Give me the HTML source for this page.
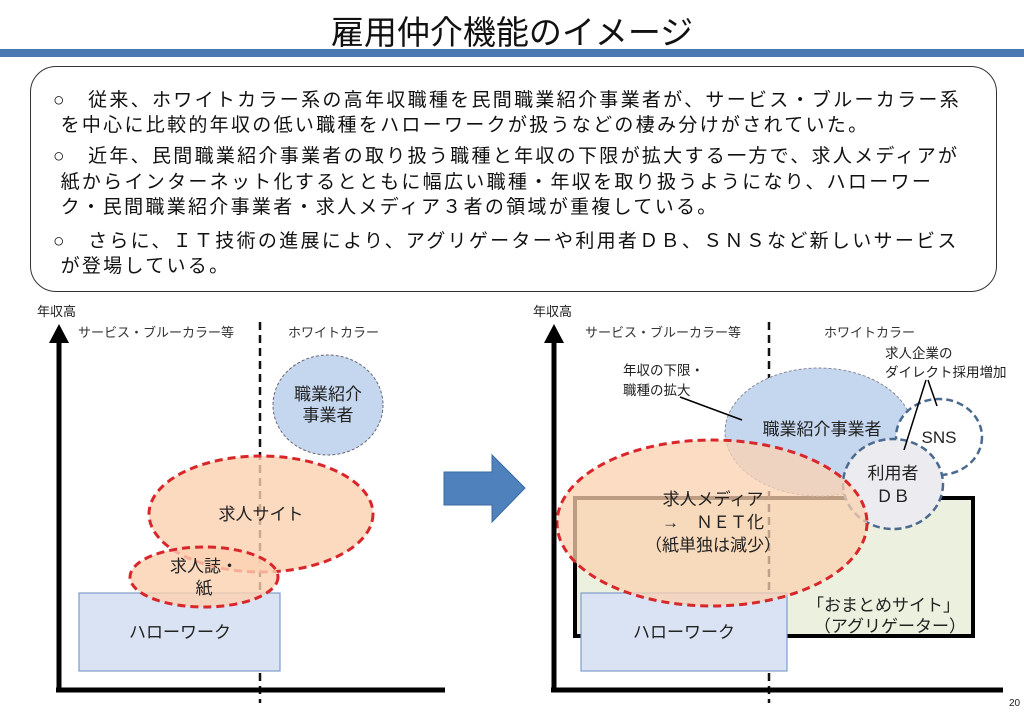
<!DOCTYPE html>
<html><head><meta charset="utf-8"><style>
body{margin:0;width:1024px;height:719px;background:#fff;overflow:hidden;font-family:"Liberation Sans","Noto Sans CJK JP",sans-serif;}
.t{position:absolute;white-space:nowrap;color:#111;}
</style></head><body>
<div class="t" style="left:0;width:1024px;text-align:center;top:6px;font-size:33px;">雇用仲介機能のイメージ</div>
<div style="position:absolute;left:0;top:49px;width:1024px;height:8px;background:#4a78b3;"></div>
<div style="position:absolute;left:30px;top:66px;width:965px;height:224px;border:1.5px solid #333;border-radius:26px;"></div>
<div class="t" style="left:53px;top:88px;font-size:19px;line-height:25px;letter-spacing:2.3px;">
○　従来、ホワイトカラー系の高年収職種を民間職業紹介事業者が、サービス・ブルーカラー系<br>
&nbsp;を中心に比較的年収の低い職種をハローワークが扱うなどの棲み分けがされていた。</div>
<div class="t" style="left:53px;top:144px;font-size:19px;line-height:25.5px;letter-spacing:2.3px;">
○　近年、民間職業紹介事業者の取り扱う職種と年収の下限が拡大する一方で、求人メディアが<br>
&nbsp;紙からインターネット化するとともに幅広い職種・年収を取り扱うようになり、ハローワー<br>
&nbsp;ク・民間職業紹介事業者・求人メディア３者の領域が重複している。</div>
<div class="t" style="left:53px;top:229px;font-size:19px;line-height:25px;letter-spacing:2.3px;">
○　さらに、ＩＴ技術の進展により、アグリゲーターや利用者ＤＢ、ＳＮＳなど新しいサービス<br>
&nbsp;が登場している。</div>

<svg style="position:absolute;left:0;top:0" width="1024" height="719" font-family="Liberation Sans, Noto Sans CJK JP, sans-serif">
<text x="37" y="316" font-size="13" fill="#222">年収高</text>
<text x="78" y="337" font-size="13" fill="#333">サービス・ブルーカラー等</text>
<text x="288" y="337" font-size="13" fill="#333">ホワイトカラー</text>
<line x1="260" y1="322" x2="260" y2="703" stroke="#111" stroke-width="2.5" stroke-dasharray="8,5"/>
<rect x="79" y="593" width="201" height="78" fill="#dae3f3" stroke="#7f9ccc" stroke-width="1.2"/>
<text x="180" y="638" font-size="17" text-anchor="middle" fill="#222">ハローワーク</text>
<ellipse cx="328" cy="405" rx="55" ry="50" fill="#c5d7ef" stroke="#667" stroke-width="1" stroke-dasharray="3,2"/>
<text x="328" y="400" font-size="17" text-anchor="middle" fill="#222">職業紹介</text>
<text x="328" y="421" font-size="17" text-anchor="middle" fill="#222">事業者</text>
<ellipse cx="261" cy="514" rx="112" ry="58" fill="#fbd1b0" fill-opacity="0.8" stroke="#d9262b" stroke-width="3" stroke-dasharray="8,5"/>
<text x="261" y="520" font-size="17" text-anchor="middle" fill="#222">求人サイト</text>
<ellipse cx="204" cy="577" rx="74" ry="30" fill="#fbd1b0" fill-opacity="0.8" stroke="#d9262b" stroke-width="3" stroke-dasharray="8,5"/>
<text x="204" y="572" font-size="17" text-anchor="middle" fill="#222">求人誌・</text>
<text x="204" y="594" font-size="17" text-anchor="middle" fill="#222">紙</text>
<line x1="59" y1="340" x2="59" y2="692" stroke="#000" stroke-width="5"/>
<polygon points="59,324 49,343 69,343" fill="#000"/>
<line x1="56" y1="690" x2="445" y2="690" stroke="#000" stroke-width="5"/>
<polygon points="444,472 492,472 492,455 525,488 492,522 492,505 444,505" fill="#4f81bd" stroke="#3a6aa0" stroke-width="1"/>
<text x="533" y="316" font-size="13" fill="#222">年収高</text>
<text x="585" y="337" font-size="13" fill="#333">サービス・ブルーカラー等</text>
<text x="824" y="337" font-size="13" fill="#333">ホワイトカラー</text>
<rect x="575" y="498" width="398" height="138" fill="#ebf1de" stroke="#000" stroke-width="4"/>
<text x="960" y="611" font-size="17" text-anchor="end" fill="#222">「おまとめサイト」</text>
<text x="966" y="632" font-size="17" text-anchor="end" fill="#222">（アグリゲーター）</text>
<line x1="769" y1="322" x2="769" y2="703" stroke="#111" stroke-width="2.5" stroke-dasharray="8,5"/>
<rect x="581" y="593" width="206" height="78" fill="#dae3f3" stroke="#7f9ccc" stroke-width="1.2"/>
<text x="684" y="638" font-size="17" text-anchor="middle" fill="#222">ハローワーク</text>
<ellipse cx="819" cy="432" rx="94" ry="64" fill="#c5d7ef" stroke="#889" stroke-width="1" stroke-dasharray="3,2"/>
<text x="822" y="435" font-size="17" text-anchor="middle" fill="#222">職業紹介事業者</text>
<ellipse cx="939" cy="437" rx="43" ry="38" fill="#fff" stroke="#4a6a90" stroke-width="2.5" stroke-dasharray="7,4"/>
<text x="939" y="443" font-size="17" text-anchor="middle" fill="#222">SNS</text>
<ellipse cx="893" cy="484" rx="50" ry="45" fill="#ececf0" stroke="#4a6a90" stroke-width="2.5" stroke-dasharray="7,4"/>
<text x="893" y="479" font-size="17" text-anchor="middle" fill="#222">利用者</text>
<text x="893" y="502" font-size="17" text-anchor="middle" fill="#222">ＤＢ</text>
<ellipse cx="712" cy="523" rx="155" ry="83" fill="#fbd1b0" fill-opacity="0.75" stroke="#d9262b" stroke-width="3" stroke-dasharray="8,5"/>
<text x="713" y="505" font-size="17" text-anchor="middle" fill="#222">求人メディア</text>
<text x="713" y="528" font-size="17" text-anchor="middle" fill="#222">→　ＮＥＴ化</text>
<text x="713" y="551" font-size="17" text-anchor="middle" fill="#222">（紙単独は減少）</text>
<text x="623" y="375" font-size="13.5" fill="#222">年収の下限・</text>
<text x="623" y="395" font-size="13.5" fill="#222">職種の拡大</text>
<line x1="680" y1="397" x2="742" y2="420" stroke="#000" stroke-width="1.5"/>
<text x="885" y="358" font-size="13.5" fill="#222">求人企業の</text>
<text x="885" y="377" font-size="13.5" fill="#222">ダイレクト採用増加</text>
<line x1="926" y1="380" x2="904" y2="450" stroke="#000" stroke-width="1.5"/>
<line x1="928" y1="380" x2="937" y2="406" stroke="#000" stroke-width="1.5"/>
<line x1="554" y1="340" x2="554" y2="692" stroke="#000" stroke-width="5"/>
<polygon points="554,324 544,343 564,343" fill="#000"/>
<line x1="551" y1="690" x2="1003" y2="690" stroke="#000" stroke-width="5"/>
<text x="1009" y="706" font-size="10" fill="#222">20</text>
</svg>
</body></html>
